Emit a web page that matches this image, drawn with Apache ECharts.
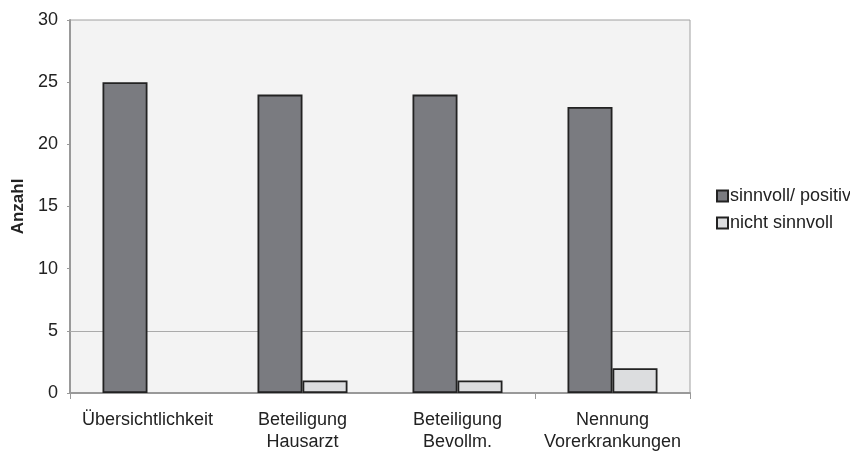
<!DOCTYPE html>
<html>
<head>
<meta charset="utf-8">
<script src="https://cdn.jsdelivr.net/npm/echarts@6/dist/echarts.min.js"></script>
<style>
  html, body { margin: 0; padding: 0; background: #fff; }
  #chart { width: 850px; height: 452px; }
</style>
</head>
<body>
<div id="chart"></div>
<script>
const categories = ['Übersichtlichkeit', 'Beteiligung\nHausarzt', 'Beteiligung\nBevollm.', 'Nennung\nVorerkrankungen']
const seriesNames = ['sinnvoll/ positiv', 'nicht sinnvoll']
const positiveValues = [25, 24, 24, 23]
const notUsefulValues = [0, 1, 1, 2]
const yTicks = { min: 0, max: 30, interval: 5 }

const chart = echarts.init(document.getElementById('chart'), null, { renderer: 'canvas' })

const font = 'Liberation Sans, Arial, sans-serif'

// zero bars have no visible outline in the original
function barData(values) {
  return values.map(function (v) {
    return v === 0 ? { value: v, itemStyle: { borderWidth: 0 } } : v
  })
}

chart.setOption({
  animation: false,
  textStyle: { fontFamily: font },
  grid: {
    left: 70,
    right: 160,
    top: 20,
    bottom: 59,
    outerBoundsMode: 'none',
    containLabel: false,
    show: true,
    backgroundColor: '#f3f3f3',
    borderColor: '#a0a0a0',
    borderWidth: 1
  },
  legend: {
    orient: 'vertical',
    left: 711,
    top: 182,
    itemWidth: 11,
    itemHeight: 11,
    itemGap: 9,
    icon: 'rect',
    textStyle: { fontSize: 18, color: '#222', fontFamily: font, padding: [0, 0, 0, -3] },
    data: seriesNames
  },
  xAxis: {
    type: 'category',
    data: categories,
    axisLine: { lineStyle: { color: '#999', width: 2 } },
    axisTick: {
      show: true,
      length: 6,
      interval: function (i) { return i === 0 || i === 3 },
      lineStyle: { color: '#999' }
    },
    axisLabel: {
      interval: 0,
      color: '#222',
      fontSize: 18,
      lineHeight: 22,
      margin: 16,
      fontFamily: font
    }
  },
  yAxis: {
    type: 'value',
    min: yTicks.min,
    max: yTicks.max,
    interval: yTicks.interval,
    name: 'Anzahl',
    nameLocation: 'middle',
    nameGap: 43,
    nameRotate: 90,
    nameTextStyle: { fontSize: 17, fontWeight: 'bold', color: '#222', fontFamily: font },
    axisLine: { show: true, lineStyle: { color: '#999', width: 2 } },
    axisTick: { show: true, length: 3, lineStyle: { color: '#999' } },
    axisLabel: { color: '#222', fontSize: 18, margin: 12, fontFamily: font },
    splitLine: { show: false }
  },
  series: [
    {
      name: seriesNames[0],
      type: 'bar',
      data: barData(positiveValues),
      barWidth: 45,
      barGap: '0%',
      itemStyle: { color: '#7a7b80', borderColor: '#222', borderWidth: 1.8 },
      markLine: {
        silent: true,
        symbol: 'none',
        label: { show: false },
        lineStyle: { color: '#aaa', type: 'solid', width: 1 },
        data: [{ yAxis: 5 }],
        z: 1
      }
    },
    {
      name: seriesNames[1],
      type: 'bar',
      data: barData(notUsefulValues),
      barWidth: 45,
      barGap: '0%',
      itemStyle: { color: '#dcdddf', borderColor: '#222', borderWidth: 1.8 }
    }
  ]
})
</script>
</body>
</html>
